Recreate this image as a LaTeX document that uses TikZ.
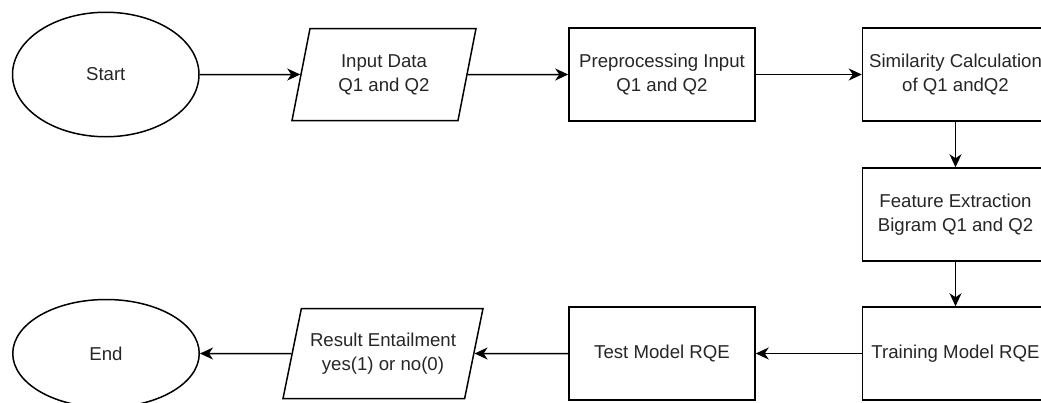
\documentclass[tikz,border=0pt]{standalone}
\usepackage{fontspec}
\setmainfont{Liberation Sans}
\usetikzlibrary{shapes.geometric,arrows.meta}

\begin{document}
\begin{tikzpicture}[
  every node/.style={font=\fontsize{10.6pt}{13.8pt}\selectfont,text=black!85,align=center,line width=0.85pt},
  box/.style={draw,rectangle,minimum width=3.72cm,minimum height=1.86cm,inner xsep=1pt},
  io/.style={draw,trapezium,trapezium left angle=71,trapezium right angle=109,trapezium stretches body,minimum height=1.84cm,minimum width=3.68cm},
  term/.style={draw,ellipse,minimum width=3.73cm,minimum height=2.49cm},
  flow/.style={-{Stealth[length=0.26cm,width=0.24cm,inset=0.08cm]},line width=0.85pt}
]
  \clip (0,0) rectangle (20.82,8.04);
  \node[term] (start) at (2.115,6.55) {Start};
  \node[io] (input) at (7.68,6.55) {Input Data\\Q1 and Q2};
  \node[box] (prep) at (13.24,6.55) {Preprocessing Input\\Q1 and Q2};
  \node[box] (sim) at (19.11,6.55) {Similarity Calculation\\of Q1 andQ2};
  \node[box] (feat) at (19.11,3.75) {Feature Extraction\\Bigram Q1 and Q2};
  \node[box] (train) at (19.11,0.97) {Training Model RQE};
  \node[box] (test) at (13.24,0.97) {Test Model RQE};
  \node[io,minimum height=1.8cm,minimum width=4.0cm] (result) at (7.66,0.97) {Result Entailment\\yes(1) or no(0)};
  \node[term,minimum height=2.16cm] (finish) at (2.12,0.97) {End};
  \draw[flow] (start)--(input);
  \draw[flow] (input)--(prep);
  \draw[flow] (prep)--(sim);
  \draw[flow] (sim)--(feat);
  \draw[flow] (feat)--(train);
  \draw[flow] (train)--(test);
  \draw[flow] (test)--(result);
  \draw[flow] (result)--(finish);
\end{tikzpicture}
\end{document}
